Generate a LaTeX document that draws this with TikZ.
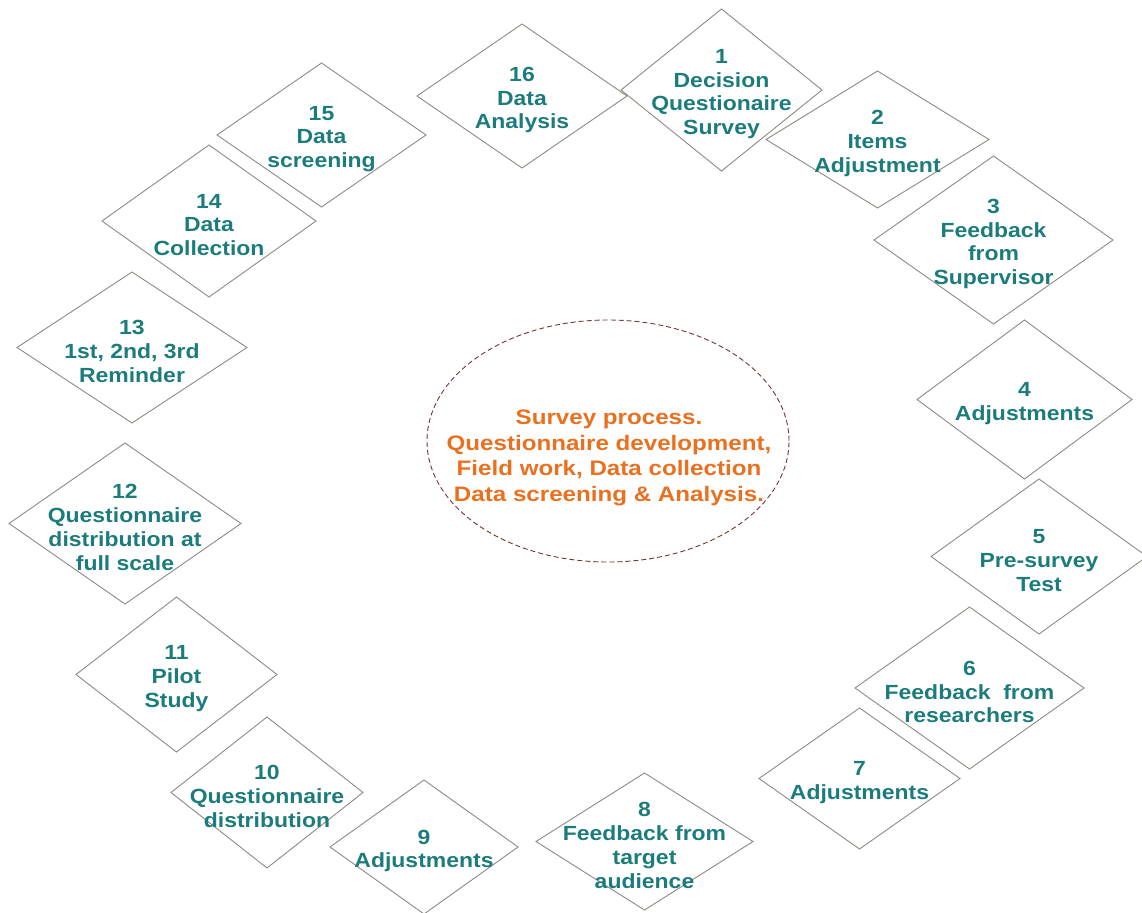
\documentclass[tikz,border=0pt]{standalone}
\usepackage{fontspec}
\newfontfamily\dfont{Liberation Sans}[FakeStretch=1.12]
\newfontfamily\cfont{Liberation Sans}[FakeStretch=1.15]
\usetikzlibrary{shapes.geometric}
\definecolor{tealtxt}{RGB}{28,124,124}
\definecolor{orangetxt}{RGB}{234,112,32}
\definecolor{diaborder}{RGB}{140,138,128}
\definecolor{elldash}{RGB}{120,50,50}
\tikzset{
  dia/.style={diamond, draw=diaborder, line width=0.9pt, inner sep=0pt, outer sep=0pt},
  lbl/.style={text=tealtxt, align=center, inner sep=0pt, yshift=-4pt, font=\dfont\bfseries\fontsize{20.5}{23.8}\selectfont},
  centre/.style={ellipse, draw=elldash, line width=0.9pt, dash pattern=on 5pt off 3pt, inner sep=0pt,
    minimum width=362pt, minimum height=242pt},
  ctxt/.style={text=orangetxt, align=center, inner sep=0pt, font=\cfont\bfseries\fontsize{21}{25.5}\selectfont}
}
\begin{document}
\begin{tikzpicture}[x=1pt,y=-1pt]
\useasboundingbox (0,0) rectangle (1142,912);
\begin{scope}
\clip (0,0) rectangle (1142,912);
\node[dia, minimum width=201pt, minimum height=162pt] (d1) at (721.5,90) {};
\node[dia, minimum width=223pt, minimum height=137pt] (d2) at (877.5,139.5) {};
\node[dia, minimum width=239pt, minimum height=168pt] (d3) at (993.5,240) {};
\node[dia, minimum width=215pt, minimum height=159pt] (d4) at (1024.5,399.5) {};
\node[dia, minimum width=216pt, minimum height=155pt] (d5) at (1039,556.5) {};
\node[dia, minimum width=229pt, minimum height=162pt] (d6) at (969.5,688) {};
\node[dia, minimum width=201pt, minimum height=141pt] (d7) at (859.5,778.5) {};
\node[dia, minimum width=217pt, minimum height=137pt] (d8) at (644.5,841.5) {};
\node[dia, minimum width=188pt, minimum height=134pt] (d9) at (424,847) {};
\node[dia, minimum width=192pt, minimum height=151pt] (d10) at (267,792.5) {};
\node[dia, minimum width=201pt, minimum height=155pt] (d11) at (176.5,674.5) {};
\node[dia, minimum width=232pt, minimum height=161pt] (d12) at (125,523.5) {};
\node[dia, minimum width=230pt, minimum height=151pt] (d13) at (132,347.5) {};
\node[dia, minimum width=214pt, minimum height=152pt] (d14) at (209,221) {};
\node[dia, minimum width=209pt, minimum height=144pt] (d15) at (321.5,135) {};
\node[dia, minimum width=210pt, minimum height=144pt] (d16) at (522,96) {};
\end{scope}
\node[lbl] (t1) at (d1) {1\\Decision\\Questionaire\\Survey};
\node[lbl] (t2) at (d2) {2\\Items\\Adjustment};
\node[lbl] (t3) at (d3) {3\\Feedback\\from\\Supervisor};
\node[lbl] (t4) at (d4) {4\\Adjustments};
\node[lbl] (t5) at (d5) {5\\Pre-survey\\Test};
\node[lbl] (t6) at (d6) {6\\Feedback\ \ from\\researchers};
\node[lbl] (t7) at (d7) {7\\Adjustments};
\node[lbl] (t8) at (d8) {8\\Feedback from\\target\\audience};
\node[lbl] (t9) at (d9) {9\\Adjustments};
\node[lbl] (t10) at (d10) {10\\Questionnaire\\distribution};
\node[lbl] (t11) at (d11) {11\\Pilot\\Study};
\node[lbl] (t12) at (d12) {12\\Questionnaire\\distribution at\\full scale};
\node[lbl] (t13) at (d13) {13\\1st, 2nd, 3rd\\Reminder};
\node[lbl] (t14) at (d14) {14\\Data\\Collection};
\node[lbl] (t15) at (d15) {15\\Data\\screening};
\node[lbl] (t16) at (d16) {16\\Data\\Analysis};
\node[centre] (c) at (608,441) {};
\node[ctxt] (ct) at (609,458) {Survey process.\\Questionnaire development,\\Field work, Data collection\\Data screening \& Analysis.};
\end{tikzpicture}
\end{document}
